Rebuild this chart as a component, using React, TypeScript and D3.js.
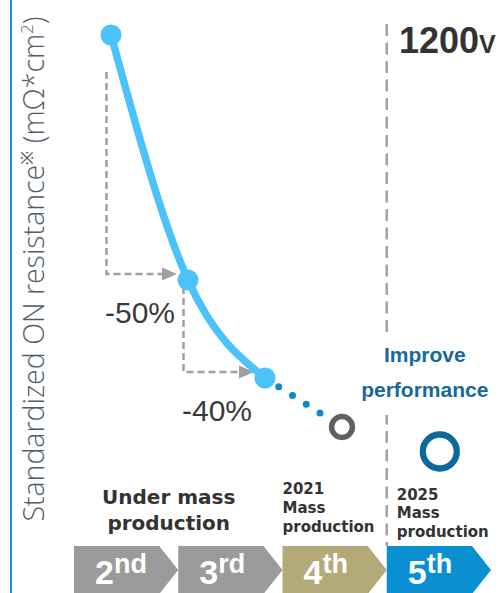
import React from "react";
import * as d3 from "d3";

// Generations shown on the timeline
const generations = ["2nd", "3rd", "4th", "5th"];
const genNumbers = ["2", "3", "4", "5"];
const genSuffixes = ["nd", "rd", "th", "th"];
const chevronColors = ["#9b9b9b", "#9b9b9b", "#b4aa78", "#0a8fd2"];

// Standardized ON resistance, normalised so that 2nd gen = 100
const stepIndex = [0, 1, 2];
const resistance = [100, 50, 30];
const reductionLabels = ["-50%", "-40%"];

// Next-generation points (open rings)
const nextIndex = [3, 4.27];
const nextValue = [20, 15];
const nextColors = ["#616161", "#0b6a9b"];

const underMassLines = ["Under mass", "production"];
const mass2021Lines = ["2021", "Mass", "production"];
const mass2025Lines = ["2025", "Mass", "production"];
const improveLines = ["Improve", "performance"];

const W = 500;
const H = 593;

const x = d3.scaleLinear().domain([0, 3]).range([111, 342]);
const y = d3.scaleLinear().domain([0, 100]).range([525, 35]);
const band = d3.scaleBand<string>().domain(generations).range([74, 491]).paddingInner(0).paddingOuter(0);

const CHEV_TOP = 546;
const CHEV_H = 48;
const CHEV_DEPTH = 19;

const boldFont = "'DejaVu Sans', Verdana, sans-serif";
const arial = "'Liberation Sans', Arial, sans-serif";

export default function App() {
  const pts: [number, number][] = stepIndex.map((s, i) => [x(s), y(resistance[i])]);
  const curve = d3.line().curve(d3.curveNatural)(pts) as string;

  const p3 = pts[pts.length - 1];
  const g4: [number, number] = [x(nextIndex[0]), y(nextValue[0])];
  const dx = g4[0] - p3[0];
  const dy = g4[1] - p3[1];
  const len = Math.hypot(dx, dy);
  const dotEnd: [number, number] = [p3[0] + (dx / len) * (len - 22), p3[1] + (dy / len) * (len - 22)];

  const arrows = pts.slice(0, -1).map((p, i) => {
    const next = pts[i + 1];
    const top = i === 0 ? p[1] + 37 : p[1] + 7;
    const vx = p[0] - 4.5;
    const hy = next[1] - 6;
    const tip = next[0] - 11;
    return { vx, top, hy, tip, next, label: reductionLabels[i] };
  });

  const divX = band("5th")!;

  const chevron = (left: number, w: number) => {
    const r = left + w;
    const mid = CHEV_TOP + CHEV_H / 2;
    return d3.line()([
      [left, CHEV_TOP],
      [r - CHEV_DEPTH, CHEV_TOP],
      [r, mid],
      [r - CHEV_DEPTH, CHEV_TOP + CHEV_H],
      [left, CHEV_TOP + CHEV_H],
    ]) + "Z";
  };

  return (
    <svg
      width={W}
      height={H}
      viewBox={`0 0 ${W} ${H}`}
      style={{ position: "absolute", left: 0, top: 0, background: "#fff" }}
    >
      <rect width={W} height={H} fill="#fff" />
      {/* left rule */}
      <line x1={11} x2={11} y1={0} y2={H} stroke="#1e8fd6" strokeWidth={2} />

      {/* y-axis title */}
      <text
        transform="translate(43.5,269) rotate(-90)"
        textAnchor="middle"
        fontFamily="'Open Sans', sans-serif"
        fontWeight={300}
        fontSize={28.5}
        fill="#525d67"
      >
        Standardized ON resistance
        <tspan fontSize={17} dy={-11}>※</tspan>
        <tspan dy={11}>  (mΩ*cm</tspan>
        <tspan fontSize={17} dy={-11}>2</tspan>
        <tspan dy={11}>)</tspan>
      </text>

      {/* generation divider */}
      <line
        x1={divX}
        x2={divX}
        y1={24}
        y2={CHEV_TOP}
        stroke="#a3a3a3"
        strokeWidth={2.5}
        strokeDasharray="12 6.5"
      />

      {/* 1200V */}
      <text x={399} y={53} fontFamily={arial} fontWeight={700} fontSize={36} fill="#333">
        1200<tspan fontSize={25}>V</tspan>
      </text>

      {/* reduction arrows */}
      {arrows.map((a, i) => (
        <g key={i}>
          <path
            d={`M${a.vx},${a.top}V${a.hy}H${a.tip - 13}`}
            fill="none"
            stroke="#a0a0a0"
            strokeWidth={2.5}
            strokeDasharray="7 4"
          />
          <path
            d={`M${a.tip},${a.hy}L${a.tip - 15},${a.hy - 6.5}L${a.tip - 15},${a.hy + 6.5}Z`}
            fill="#a0a0a0"
          />
          <text
            x={a.next[0] - 13}
            y={a.next[1] + 43}
            textAnchor="end"
            fontFamily={arial}
            fontSize={30}
            fill="#3a3a3a"
          >
            {a.label}
          </text>
        </g>
      ))}

      {/* projected trend to next gen */}
      <line
        x1={p3[0]}
        y1={p3[1]}
        x2={dotEnd[0]}
        y2={dotEnd[1]}
        stroke="#0a8bd0"
        strokeWidth={7}
        strokeLinecap="round"
        strokeDasharray="0 16.3"
      />

      {/* measured trend */}
      <path d={curve} fill="none" stroke="#4cc2fb" strokeWidth={7.5} strokeLinecap="round" />
      {pts.map((p, i) => (
        <circle key={i} cx={p[0]} cy={p[1]} r={10.5} fill="#4cc2fb" />
      ))}

      {/* next-generation rings */}
      {nextIndex.map((n, i) => (
        <circle
          key={i}
          cx={x(n)}
          cy={y(nextValue[i])}
          r={i === 0 ? 10.4 : 17}
          fill="#fff"
          stroke={nextColors[i]}
          strokeWidth={i === 0 ? 5.5 : 6.3}
        />
      ))}

      {/* Improve performance */}
      <rect x={divX - 6} y={333} width={12} height={82} fill="#fff" />
      {improveLines.map((t, i) => (
        <text
          key={t}
          x={divX + 38}
          y={362 + i * 35}
          textAnchor="middle"
          fontFamily={arial}
          fontWeight={700}
          fontSize={21}
          fill="#17699c"
        >
          {t}
        </text>
      ))}

      {/* production status */}
      {underMassLines.map((t, i) => (
        <text
          key={t}
          x={(band("2nd")! + band("4th")! - CHEV_DEPTH) / 2}
          y={504 + i * 26}
          textAnchor="middle"
          fontFamily={boldFont}
          fontWeight={700}
          fontSize={20}
          fill="#333"
        >
          {t}
        </text>
      ))}
      {mass2021Lines.map((t, i) => (
        <text
          key={t}
          x={band("4th")!}
          y={494 + i * 18.8}
          fontFamily={boldFont}
          fontWeight={700}
          fontSize={15}
          fill="#333"
        >
          {t}
        </text>
      ))}
      {mass2025Lines.map((t, i) => (
        <text
          key={t}
          x={band("5th")! + 10}
          y={500 + i * 18.4}
          fontFamily={boldFont}
          fontWeight={700}
          fontSize={15}
          fill="#333"
        >
          {t}
        </text>
      ))}

      {/* generation chevrons */}
      {generations.map((g, i) => {
        const left = band(g)!;
        return (
          <g key={g}>
            <path d={chevron(left, band.bandwidth())} fill={chevronColors[i]} />
            <text x={left + 21} y={584} fontFamily={arial} fontWeight={700} fontSize={34} fill="#fff">
              {genNumbers[i]}
              <tspan fontSize={27} dy={-11}>
                {genSuffixes[i]}
              </tspan>
            </text>
          </g>
        );
      })}
    </svg>
  );
}
